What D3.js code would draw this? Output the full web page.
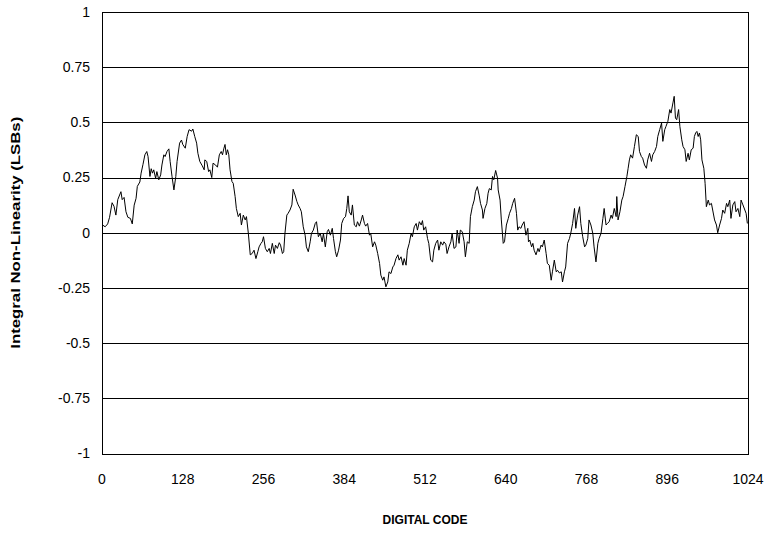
<!DOCTYPE html>
<html>
<head>
<meta charset="utf-8">
<script src="https://cdn.jsdelivr.net/npm/d3@7"></script>
<style>
  html, body { margin: 0; padding: 0; background: #fff; }
  svg { display: block; font-family: Arial, "Liberation Sans", sans-serif; }
  .tick-label { font-size: 14px; fill: #000; }
  .axis-title { font-size: 12px; font-weight: bold; fill: #000; }
</style>
</head>
<body>
<svg id="chart" width="766" height="534"></svg>
<script>
// INL curve (code, LSBs)
const codes = [
  1, 5, 9, 12, 16, 19, 22, 25, 30, 32, 35, 38, 41, 45, 48, 51, 54, 56, 60, 62,
  65, 68, 71, 73, 76, 78, 80, 82, 85, 87, 90, 93, 95, 98, 100, 103, 106, 108, 111, 114,
  117, 119, 123, 126, 128, 132, 135, 138, 142, 144, 147, 150, 152, 155, 159, 162,
  163, 166, 169, 171, 174, 176, 180, 183, 186, 189, 191, 193, 195, 197, 199, 201, 203, 206,
  208, 211, 213, 216, 219, 221, 224, 227, 229, 232, 235, 238, 241, 244, 247, 249, 252, 254,
  256, 259, 262, 265, 267, 270, 273, 275, 278, 281, 283, 286, 288, 290, 293, 295, 298, 301,
  303, 306, 309, 311, 314, 316, 319, 322, 324, 327, 330, 332, 335, 338, 340,
  343, 346, 349, 351, 354, 357, 359, 362, 365, 367, 370, 372, 375, 378, 380, 383, 386, 388,
  390, 392, 395, 397, 400, 403, 405, 408, 411, 413, 416, 418, 421, 424, 426, 429, 432, 434,
  437, 440, 442, 445, 447, 450, 453, 455, 458, 461, 463, 466, 469, 471, 474, 477, 479, 482,
  484, 487, 490, 492, 495, 498, 500, 503, 506,
  508, 510, 513, 516, 518, 521, 524, 526, 529, 532, 534, 537, 540, 542, 545, 547, 550, 553,
  555, 558, 561, 563, 566, 568, 571, 574, 576, 579, 582, 584, 587, 590, 592, 595, 598, 600,
  603, 604, 607, 610, 612, 614, 617, 619, 621, 624, 627, 628, 631, 633, 636, 638, 641, 644,
  646, 649, 651, 654, 657, 659, 661, 664, 666, 669, 672,
  675, 676, 678, 681, 683, 685, 688, 691, 693, 696, 698, 701, 704, 706, 709, 712, 714, 717,
  720, 722, 725, 728, 730, 733, 735, 738, 741, 743, 746, 749, 751, 754, 757, 759, 762, 765,
  767, 770, 772, 775, 778, 780, 783, 786, 788, 791, 794, 796, 799, 801, 804, 807, 809, 812,
  815, 816, 818, 821, 824, 826, 829, 832, 834, 836, 838, 841, 844,
  847, 850, 852, 855, 857, 860, 863, 865, 868, 871, 873, 876, 879, 881, 884, 887, 889, 892,
  894, 897, 900, 902, 905, 907, 909, 911, 914, 916, 919, 921, 924, 926, 929, 931, 934, 937,
  939, 941, 943, 945, 947, 949, 951, 954, 956, 958, 961, 963, 966, 968, 971, 974, 976, 979,
  982, 984, 987, 990, 992, 995, 997, 1000, 1003, 1005, 1008, 1011, 1013, 1016, 1019, 1021, 1023
];
const inl = [
  0.035, 0.027, 0.04, 0.07, 0.136, 0.12, 0.08, 0.15, 0.186, 0.15, 0.16, 0.095, 0.07, 0.065, 0.04, 0.125, 0.156, 0.21, 0.23, 0.27,
  0.31, 0.353, 0.368, 0.345, 0.255, 0.29, 0.27, 0.285, 0.247, 0.277, 0.24, 0.262, 0.307, 0.353, 0.345, 0.368, 0.38, 0.323, 0.255, 0.194,
  0.255, 0.323, 0.406, 0.42, 0.4, 0.383, 0.436, 0.467, 0.46, 0.47, 0.436, 0.406, 0.36, 0.323, 0.303, 0.285,
  0.33, 0.323, 0.277, 0.285, 0.25, 0.315, 0.307, 0.297, 0.353, 0.368, 0.353, 0.38, 0.4, 0.353, 0.376, 0.353, 0.285, 0.232,
  0.224, 0.164, 0.11, 0.073, 0.088, 0.035, 0.08, 0.058, 0.073, -0.003, -0.1, -0.094, -0.079, -0.117, -0.086, -0.064, -0.048, -0.041,
  -0.018, -0.071, -0.086, -0.071, -0.094, -0.048, -0.094, -0.056, -0.071, -0.045, -0.056, -0.094, -0.086, -0.003, 0.08, 0.088, 0.103, 0.126,
  0.197, 0.171, 0.141, 0.126, 0.11, 0.095, 0.027, -0.011, -0.064, -0.086, -0.041, -0.003, 0.012, 0.042, 0.05,
  -0.018, -0.003, -0.041, -0.003, -0.064, 0.005, 0.015, -0.011, 0.02, -0.026, -0.086, -0.109, -0.079, -0.033, 0.042, 0.065, 0.073, 0.11,
  0.167, 0.095, 0.08, 0.126, 0.035, 0.027, 0.05, 0.03, 0.058, 0.08, 0.042, 0.03, 0.042, -0.011, -0.003, -0.064, -0.041, -0.056,
  -0.094, -0.139, -0.192, -0.215, -0.2, -0.245, -0.223, -0.177, -0.185, -0.155, -0.147, -0.117, -0.1, -0.124, -0.109, -0.147, -0.117, -0.147,
  -0.079, -0.048, -0.003, -0.018, 0.027, 0.042, 0.012, 0.05, 0.035,
  0.055, 0.012, 0.027, -0.026, -0.048, -0.124, -0.132, -0.079, -0.048, -0.033, -0.079, -0.041, -0.056, -0.041, -0.052, -0.094, -0.064, -0.041,
  -0.003, -0.071, -0.064, 0.012, -0.048, 0.012, 0.005, -0.041, -0.109, -0.041, -0.048, 0.073, 0.118, 0.148, 0.186, 0.209, 0.167, 0.133,
  0.103, 0.065, 0.11, 0.133, 0.179, 0.2, 0.194, 0.255, 0.24, 0.282, 0.247, 0.194, 0.148, 0.058, -0.048, -0.041, 0.035, 0.065,
  0.088, 0.11, 0.133, 0.156, 0.088, 0.012, 0.027, 0.02, 0.035, 0.05, -0.011,
  0.02, -0.041, -0.033, -0.064, -0.048, -0.079, -0.1, -0.071, -0.086, -0.056, -0.064, -0.033, -0.094, -0.139, -0.147, -0.215, -0.177, -0.124,
  -0.177, -0.17, -0.182, -0.177, -0.223, -0.177, -0.155, -0.048, -0.026, -0.003, 0.042, 0.11, 0.02, 0.08, 0.118, 0.042, -0.018, -0.064,
  -0.056, -0.026, 0.058, 0.035, -0.003, -0.064, -0.132, -0.048, -0.026, -0.003, 0.065, 0.11, 0.035, 0.042, 0.05, 0.08, 0.065, 0.11,
  0.073, 0.164, 0.058, 0.095, 0.148, 0.164, 0.209, 0.255, 0.292, 0.33, 0.353, 0.338, 0.391,
  0.444, 0.436, 0.368, 0.345, 0.338, 0.307, 0.292, 0.33, 0.36, 0.323, 0.353, 0.368, 0.391, 0.436, 0.467, 0.497, 0.414, 0.467,
  0.482, 0.505, 0.558, 0.542, 0.588, 0.618, 0.52, 0.512, 0.558, 0.482, 0.421, 0.391, 0.376, 0.323, 0.36, 0.33, 0.376, 0.383,
  0.436, 0.452, 0.459, 0.436, 0.452, 0.421, 0.33, 0.292, 0.224, 0.118, 0.148, 0.126, 0.133, 0.103, 0.058, 0.035, 0, 0.035,
  0.065, 0.103, 0.088, 0.133, 0.118, 0.148, 0.065, 0.126, 0.141, 0.095, 0.11, 0.073, 0.148, 0.126, 0.103, 0.088, 0.042
];
const xTicks = [0, 128, 256, 384, 512, 640, 768, 896, 1024];
const yTicks = [1, 0.75, 0.5, 0.25, 0, -0.25, -0.5, -0.75, -1];

const data = codes.map((c, i) => ({ code: c, v: inl[i] }));

const svg = d3.select('#chart');
const m = { left: 102, right: 748, top: 12, bottom: 453.5 };

const x = d3.scaleLinear().domain([0, 1024]).range([m.left, m.right]);
const y = d3.scaleLinear().domain([-1, 1]).range([m.bottom, m.top]);

// horizontal gridlines
svg.append('g')
  .selectAll('line')
  .data(yTicks)
  .join('line')
    .attr('x1', m.left)
    .attr('x2', m.right)
    .attr('y1', d => Math.round(y(d)) + 0.5)
    .attr('y2', d => Math.round(y(d)) + 0.5)
    .attr('stroke', '#000')
    .attr('stroke-width', 1);

// plot frame
svg.append('rect')
  .attr('x', m.left + 0.5)
  .attr('y', Math.round(m.top) + 0.5)
  .attr('width', m.right - m.left)
  .attr('height', Math.round(m.bottom) - Math.round(m.top))
  .attr('fill', 'none')
  .attr('stroke', '#000');

// y tick labels (plain hyphen for negatives, like the original)
svg.append('g')
  .selectAll('text')
  .data(yTicks)
  .join('text')
    .attr('class', 'tick-label')
    .attr('x', 90)
    .attr('y', d => y(d))
    .attr('dy', '0.35em')
    .attr('text-anchor', 'end')
    .text(d => String(d));

// x tick labels
svg.append('g')
  .selectAll('text')
  .data(xTicks)
  .join('text')
    .attr('class', 'tick-label')
    .attr('x', d => x(d))
    .attr('y', 479)
    .attr('dy', '0.35em')
    .attr('text-anchor', 'middle')
    .text(d => d);

// the INL trace
const line = d3.line()
  .x(d => x(d.code))
  .y(d => y(d.v));

svg.append('path')
  .datum(data)
  .attr('fill', 'none')
  .attr('stroke', '#000')
  .attr('stroke-width', 1)
  .attr('stroke-linejoin', 'round')
  .attr('d', line);

// axis titles
svg.append('text')
  .attr('class', 'axis-title')
  .attr('x', (m.left + m.right) / 2)
  .attr('y', 520)
  .attr('dy', '0.35em')
  .attr('text-anchor', 'middle')
  .text('DIGITAL CODE');

svg.append('text')
  .attr('class', 'axis-title')
  .attr('transform', `translate(15,${y(0)}) rotate(-90)`)
  .attr('dy', '0.35em')
  .attr('text-anchor', 'middle')
  .style('font-size', '13px')
  .attr('textLength', 232)
  .attr('lengthAdjust', 'spacingAndGlyphs')
  .text('Integral Non-Linearity (LSBs)');
</script>
</body>
</html>
